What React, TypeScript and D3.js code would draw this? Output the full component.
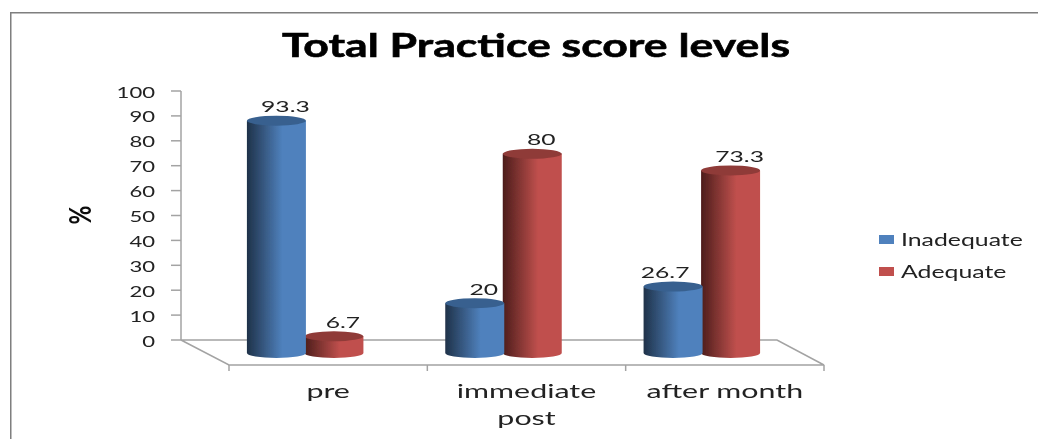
import React from "react";
import * as d3 from "d3";

const title = "Total Practice score levels";
const categories = ["pre", "immediate post", "after month"];
const seriesNames = ["Inadequate", "Adequate"];
const inadequate = [93.3, 20, 26.7];
const adequate = [6.7, 80, 73.3];
const yTicks = [0, 10, 20, 30, 40, 50, 60, 70, 80, 90, 100];

const W = 1038;
const H = 439;
const font = "Lato, 'Open Sans', sans-serif";
const axisGray = "#a3a3a3";
const textColor = "#222";

// 3D look: floor is pushed back/down from the wall
const depthX = 47;
const depthY = 25;
const barDrop = 13;
const barShift = -23;

const y = d3.scaleLinear().domain([0, 100]).range([340, 91]);
const x0 = d3.scaleBand<string>().domain(categories).range([229, 824]);
const x1 = d3.scaleBand<string>().domain(seriesNames).range([0, 115]);

const colors: Record<string, { dark: string; main: string; top: string }> = {
  Inadequate: { dark: "#1f3249", main: "#4f81bd", top: "#37608f" },
  Adequate: { dark: "#4c1d1b", main: "#c0504d", top: "#8f3a38" },
};

function barCenter(cat: string, name: string) {
  return (x0(cat) as number) + barShift + (x0.bandwidth() - x1.range()[1]) / 2 + (x1(name) as number) + x1.bandwidth() / 2;
}

// the original picture was stretched sideways, so the text is too
function Wide({ x, y, size, sx, anchor, children }: { x: number; y: number; size: number; sx: number; anchor?: string; children: React.ReactNode }) {
  return (
    <text transform={`translate(${x},${y}) scale(${sx},1)`} textAnchor={anchor || "middle"} fontSize={size} fill={textColor}>
      {children}
    </text>
  );
}

// one cylinder, front curve goes along the bottom, flat ellipse on top
function Cylinder({ cx, rx, value, name }: { cx: number; rx: number; value: number; name: string }) {
  const ry = 5;
  const top = y(value) + barDrop;
  const bottom = y(0) + barDrop;
  const body = `M${cx - rx},${top} L${cx - rx},${bottom} A${rx},${ry} 0 0 0 ${cx + rx},${bottom} L${cx + rx},${top} Z`;
  return (
    <g>
      <path d={body} fill={`url(#grad-${name})`} />
      <ellipse cx={cx} cy={top} rx={rx} ry={ry} fill={colors[name].top} />
    </g>
  );
}

export default function App() {
  const floorLeft = x0.range()[0];
  const floorRight = x0.range()[1];
  const wallX = floorLeft - depthX - 1;
  const y0 = y(0);
  const floorY = y0 + depthY;

  const rows = seriesNames.map((name, i) => ({
    name,
    values: i === 0 ? inadequate : adequate,
  }));

  return (
    <svg
      width={W}
      height={H}
      style={{ position: "absolute", left: 0, top: 0, background: "#fff" }}
      fontFamily={font}
    >
      <defs>
        {seriesNames.map((name) => (
          <linearGradient key={name} id={`grad-${name}`} x1="0" x2="1" y1="0" y2="0">
            <stop offset="0" stopColor={colors[name].dark} />
            <stop offset="0.6" stopColor={colors[name].main} />
            <stop offset="1" stopColor={colors[name].main} />
          </linearGradient>
        ))}
        <filter id="soft" x="0" y="0" width="100%" height="100%">
          <feGaussianBlur stdDeviation="0.4" />
        </filter>
      </defs>

      <g filter="url(#soft)">
        {/* chart frame, only top and left are visible */}
        <path d={`M10,${H} L10,12 L${W},12`} fill="none" stroke="#7f7f7f" strokeWidth={3} />

        <text
          x={536}
          y={57}
          textAnchor="middle"
          fontSize={33}
          fontWeight="bold"
          fill="#000"
          stroke="#000"
          strokeWidth={0.6}
          textLength={508}
          lengthAdjust="spacingAndGlyphs"
        >
          {title}
        </text>

        <text transform={`translate(91,215) rotate(-90) scale(1,1.3)`} textAnchor="middle" fontSize={23} fontWeight="bold" fill="#111">
          %
        </text>

        {/* y axis */}
        <line x1={wallX} x2={wallX} y1={y(100)} y2={y0} stroke={axisGray} strokeWidth={1.5} />
        {yTicks.map((t) => (
          <g key={t}>
            <line x1={wallX - 10} x2={wallX} y1={y(t)} y2={y(t)} stroke={axisGray} strokeWidth={1.5} />
            <Wide x={wallX - 26} y={y(t) + 6.5} size={16} sx={1.38} anchor="end">
              {t}
            </Wide>
          </g>
        ))}

        {/* floor */}
        <path
          d={`M${wallX},${y0} L${floorRight - depthX},${y0} L${floorRight},${floorY} L${floorLeft},${floorY} Z`}
          fill="none"
          stroke={axisGray}
          strokeWidth={1.5}
        />
        {[...categories.map((c) => x0(c) as number), floorRight].map((t) => (
          <line key={t} x1={t} x2={t} y1={floorY} y2={floorY + 6} stroke={axisGray} strokeWidth={1.5} />
        ))}

        {/* bars, red first because the blue one sits over it */}
        {[...rows].reverse().map((row) =>
          categories.map((c, i) => (
            <Cylinder key={row.name + c} cx={barCenter(c, row.name)} rx={29.5} value={row.values[i]} name={row.name} />
          ))
        )}

        {/* value labels, 26.7 sits left of its bar because the red bar is in the way */}
        {rows.map((row) =>
          categories.map((c, i) => (
            <Wide
              key={row.name + c}
              x={barCenter(c, row.name) + (row.values[i] === 26.7 ? -8 : 9)}
              y={y(row.values[i]) + 4.5}
              size={16}
              sx={1.54}
            >
              {row.values[i]}
            </Wide>
          ))
        )}

        {/* category labels */}
        {categories.map((c) => {
          const lines = c === "immediate post" ? ["immediate", "post"] : [c];
          return lines.map((l, i) => (
            <Wide key={l} x={(x0(c) as number) + x0.bandwidth() / 2} y={398 + i * 27} size={19} sx={1.6}>
              {l}
            </Wide>
          ));
        })}

        {/* legend */}
        {seriesNames.map((name, i) => (
          <g key={name} transform={`translate(879,${235 + i * 32})`}>
            <rect width={15} height={9} fill={colors[name].main} />
            <Wide x={22} y={10.5} size={17} sx={1.46} anchor="start">
              {name}
            </Wide>
          </g>
        ))}
      </g>
    </svg>
  );
}
